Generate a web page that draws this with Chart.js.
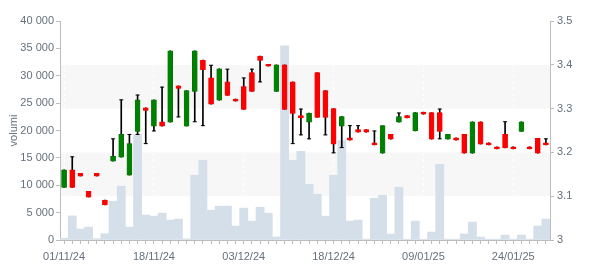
<!DOCTYPE html>
<html>
<head>
<meta charset="utf-8">
<script src="https://cdn.jsdelivr.net/npm/chart.js@4.4.1/dist/chart.umd.min.js"></script>
<style>
  html, body { margin: 0; padding: 0; background: #fff; }
</style>
</head>
<body>
<canvas id="stockChart" width="600" height="270"></canvas>
<script>
// trading days shown on the x axis
const dates = [
    '01/11/24', '04/11/24', '05/11/24', '06/11/24', '07/11/24', '08/11/24', '11/11/24', '12/11/24', '13/11/24', '14/11/24',
    '15/11/24', '18/11/24', '19/11/24', '20/11/24', '21/11/24', '22/11/24', '25/11/24', '26/11/24', '27/11/24', '28/11/24',
    '29/11/24', '02/12/24', '03/12/24', '04/12/24', '05/12/24', '06/12/24', '09/12/24', '10/12/24', '11/12/24', '12/12/24',
    '13/12/24', '16/12/24', '17/12/24', '18/12/24', '19/12/24', '20/12/24', '23/12/24', '27/12/24', '30/12/24', '02/01/25',
    '03/01/25', '06/01/25', '07/01/25', '08/01/25', '09/01/25', '10/01/25', '13/01/25', '14/01/25', '15/01/25', '16/01/25',
    '17/01/25', '20/01/25', '21/01/25', '22/01/25', '23/01/25', '24/01/25', '27/01/25', '28/01/25', '29/01/25', '30/01/25'
];

const opens = [
    3.12, 3.16, 3.152, 3.111, 3.152, 3.091, 3.180, 3.189, 3.148, 3.248,
    3.302, 3.260, 3.270, 3.269, 3.352, 3.260, 3.339, 3.411, 3.370, 3.319,
    3.361, 3.322, 3.350, 3.382, 3.420, 3.401, 3.339, 3.400, 3.361, 3.284,
    3.269, 3.382, 3.341, 3.300, 3.260, 3.233, 3.252, 3.252, 3.222, 3.198,
    3.241, 3.269, 3.284, 3.249, 3.292, 3.291, 3.291, 3.230, 3.233, 3.241,
    3.198, 3.270, 3.222, 3.213, 3.241, 3.213, 3.248, 3.213, 3.232, 3.222
];
const closes = [
    3.16, 3.12, 3.146, 3.098, 3.146, 3.080, 3.191, 3.241, 3.220, 3.320,
    3.296, 3.320, 3.260, 3.432, 3.346, 3.341, 3.432, 3.389, 3.310, 3.391,
    3.330, 3.317, 3.298, 3.339, 3.410, 3.397, 3.400, 3.298, 3.289, 3.279,
    3.290, 3.280, 3.280, 3.219, 3.282, 3.228, 3.246, 3.246, 3.217, 3.261,
    3.230, 3.282, 3.279, 3.291, 3.287, 3.230, 3.248, 3.241, 3.228, 3.198,
    3.270, 3.219, 3.217, 3.208, 3.210, 3.208, 3.270, 3.208, 3.198, 3.217
];
const highs = [
    3.16, 3.19, 3.152, 3.111, 3.152, 3.091, 3.231, 3.320, 3.241, 3.331,
    3.302, 3.320, 3.349, 3.432, 3.352, 3.341, 3.432, 3.411, 3.399, 3.391,
    3.390, 3.322, 3.370, 3.390, 3.420, 3.401, 3.400, 3.400, 3.361, 3.299,
    3.290, 3.382, 3.341, 3.300, 3.282, 3.261, 3.261, 3.252, 3.249, 3.261,
    3.241, 3.290, 3.284, 3.291, 3.292, 3.291, 3.299, 3.241, 3.233, 3.241,
    3.270, 3.270, 3.222, 3.213, 3.270, 3.213, 3.270, 3.213, 3.232, 3.231
];
const lows = [
    3.12, 3.12, 3.146, 3.098, 3.146, 3.080, 3.180, 3.189, 3.148, 3.241,
    3.220, 3.249, 3.260, 3.269, 3.281, 3.260, 3.270, 3.261, 3.310, 3.319,
    3.330, 3.317, 3.298, 3.339, 3.361, 3.397, 3.339, 3.298, 3.220, 3.240,
    3.231, 3.280, 3.240, 3.199, 3.211, 3.228, 3.246, 3.246, 3.217, 3.198,
    3.230, 3.269, 3.279, 3.249, 3.287, 3.230, 3.231, 3.230, 3.228, 3.198,
    3.198, 3.219, 3.217, 3.208, 3.210, 3.208, 3.248, 3.208, 3.198, 3.217
];
const volumes = [
    300, 4400, 2000, 2360, 250, 1150, 7090, 9820, 2360, 19270,
    4550, 4360, 4910, 3640, 3820, 200, 11820, 14550, 5450, 6180,
    6180, 2550, 5820, 3450, 6000, 4910, 550, 35450, 14550, 16180,
    10180, 8360, 4360, 11820, 18180, 3450, 3640, 150, 7640, 8180,
    1090, 9640, 150, 3450, 150, 1450, 13820, 150, 150, 1090,
    3270, 550, 150, 150, 900, 150, 900, 150, 2550, 3820
];

// shaded price bands on the right axis
const priceBands = [[3.1, 3.2], [3.3, 3.4]];

const volumeTicks = { min: 0, max: 40000, step: 5000 };
const priceTicks = { min: 3, max: 3.5, step: 0.1 };

const textColor = '#66707c';
const axisColor = '#bdbdbd';

Chart.defaults.font.family = "'Liberation Sans', Arial, sans-serif";
Chart.defaults.font.size = 11;
Chart.defaults.color = textColor;

const bandPlugin = {
    id: 'bands',
    beforeDraw(chart) {
        const { ctx, chartArea, scales } = chart;
        ctx.save();
        ctx.fillStyle = '#f7f7f7';
        priceBands.forEach(function (band) {
            const top = scales.y1.getPixelForValue(band[1]);
            const bottom = scales.y1.getPixelForValue(band[0]);
            ctx.fillRect(chartArea.left, top, chartArea.right - chartArea.left, bottom - top);
        });
        ctx.restore();
    }
};

const highCaps = highs.map((h, i) => h > Math.max(opens[i], closes[i]) ? h : null);
const lowCaps = lows.map((l, i) => l < Math.min(opens[i], closes[i]) ? l : null);

const ctx = document.getElementById('stockChart').getContext('2d');
const stockChart = new Chart(ctx, {
    type: 'bar',
    data: {
        labels: dates,
        datasets: [{
            label: 'volumi',
            data: volumes,
            yAxisID: 'y',
            backgroundColor: '#d5dfe9',
            barPercentage: 1,
            categoryPercentage: 1,
            grouped: false,
            order: 4
        }, {
            label: 'wick',
            data: lows.map((l, i) => [l, highs[i]]),
            yAxisID: 'y1',
            backgroundColor: '#000',
            barThickness: 1,
            grouped: false,
            order: 3
        }, {
            label: 'body',
            data: opens.map((o, i) => [o, closes[i]]),
            yAxisID: 'y1',
            backgroundColor: opens.map((o, i) => closes[i] >= o ? '#008000' : '#ff0000'),
            borderColor: opens.map((o, i) => closes[i] >= o ? '#006a00' : '#ee0000'),
            borderWidth: 0.5,
            borderSkipped: false,
            barThickness: 5,
            grouped: false,
            order: 2
        }, {
            type: 'line',
            label: 'high',
            data: highCaps,
            yAxisID: 'y1',
            showLine: false,
            pointStyle: 'line',
            pointRadius: 2,
            pointBorderColor: '#000',
            pointBorderWidth: 1,
            order: 1
        }, {
            type: 'line',
            label: 'low',
            data: lowCaps,
            yAxisID: 'y1',
            showLine: false,
            pointStyle: 'line',
            pointRadius: 2,
            pointBorderColor: '#000',
            pointBorderWidth: 1,
            order: 1
        }]
    },
    options: {
        responsive: false,
        animation: false,
        layout: { padding: { top: 21 } },
        scales: {
            x: {
                offset: true,
                grid: {
                    offset: false,
                    color: c => c.index % 11 === 0 ? 'rgba(255,255,255,0.9)' : 'rgba(0,0,0,0)',
                    tickColor: axisColor,
                    tickLength: 4
                },
                border: { color: axisColor, dash: [3, 3] },
                ticks: {
                    autoSkip: false,
                    maxRotation: 0,
                    padding: 6,
                    callback: (v, i) => i % 11 === 0 ? dates[i] : ''
                },
                afterFit: s => { s.height = 30; }
            },
            y: {
                position: 'left',
                min: volumeTicks.min,
                max: volumeTicks.max,
                grid: { drawOnChartArea: false, tickColor: axisColor, tickLength: 4 },
                border: { color: axisColor },
                ticks: {
                    stepSize: volumeTicks.step,
                    padding: 2,
                    callback: v => String(v).replace(/\B(?=(\d{3})+(?!\d))/g, ' ')
                },
                title: { display: true, text: 'volumi', padding: { top: 7, bottom: 0 } },
                afterFit: s => { s.width = 60; }
            },
            y1: {
                position: 'right',
                min: priceTicks.min,
                max: priceTicks.max,
                grid: { drawOnChartArea: false, tickColor: axisColor, tickLength: 4 },
                border: { color: axisColor },
                ticks: {
                    stepSize: priceTicks.step,
                    padding: 3,
                    callback: v => String(Number(v.toFixed(1)))
                },
                afterFit: s => { s.width = 50; }
            }
        },
        plugins: {
            legend: { display: false },
            tooltip: { enabled: false }
        }
    },
    plugins: [bandPlugin]
});
</script>
</body>
</html>
